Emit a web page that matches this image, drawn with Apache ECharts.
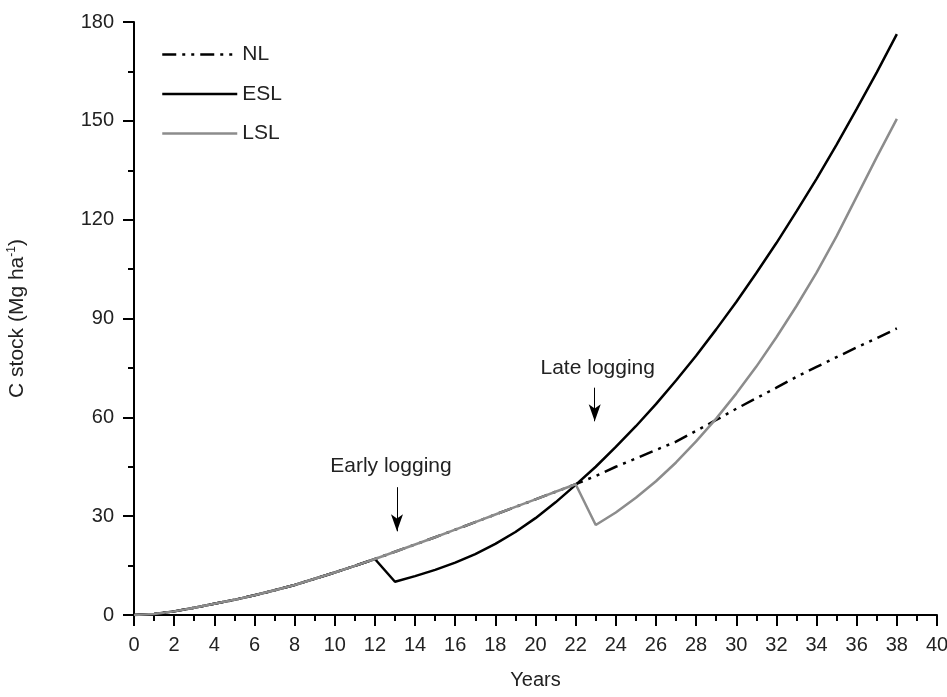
<!DOCTYPE html>
<html>
<head>
<meta charset="utf-8">
<script src="https://cdn.jsdelivr.net/npm/echarts@6/dist/echarts.min.js"></script>
<style>
  html, body { margin: 0; padding: 0; background: #fff; }
  #chart { width: 947px; height: 697px; }
</style>
</head>
<body>
<div id="chart"></div>
<script>
// years 0..38
const years = [0, 1, 2, 3, 4, 5, 6, 7, 8, 9, 10, 11, 12, 13, 14, 15, 16, 17, 18, 19,
  20, 21, 22, 23, 24, 25, 26, 27, 28, 29, 30, 31, 32, 33, 34, 35, 36, 37, 38]

// no logging
const nlValues = [0, 0.3, 1.1, 2.2, 3.4, 4.6, 6.0, 7.5, 9.1, 11.0, 12.9, 14.9, 17.0, 19.2, 21.4,
  23.6, 25.9, 28.2, 30.5, 32.8, 35.1, 37.4, 39.7, 42.2, 45.0, 47.5, 50.1, 52.6, 55.9,
  59.2, 62.6, 65.8, 69.0, 72.3, 75.3, 78.3, 81.2, 84.0, 87.0]

// early logging (year 12)
const eslValues = [0, 0.3, 1.1, 2.2, 3.4, 4.6, 6.0, 7.5, 9.1, 11.0, 12.9, 14.9, 17.0, 10.1, 11.8,
  13.7, 15.9, 18.5, 21.6, 25.2, 29.4, 34.2, 39.5, 45.0, 51.0, 57.3, 64.0, 71.2, 78.7,
  86.7, 95.0, 103.8, 112.9, 122.5, 132.4, 142.8, 153.6, 164.7, 176.3]

// late logging (year 22)
const lslValues = [0, 0.3, 1.1, 2.2, 3.4, 4.6, 6.0, 7.5, 9.1, 11.0, 12.9, 14.9, 17.0, 19.2, 21.4,
  23.6, 25.9, 28.2, 30.5, 32.8, 35.1, 37.4, 39.7, 27.3, 31.1, 35.6, 40.6, 46.3, 52.7,
  59.6, 67.2, 75.4, 84.3, 93.8, 103.9, 115.0, 127.0, 139.0, 150.6]

const legendList = ['NL', 'ESL', 'LSL']
const textColor = '#222'
const font = 'Arial, "Liberation Sans", sans-serif'

function pairs(vals) {
  return years.map((y, i) => [y, vals[i]])
}

let myChart = echarts.init(document.getElementById('chart'))

let options = {
  animation: false,
  grid: {
    left: 134,
    right: 10,
    top: 22,
    bottom: 82,
    outerBoundsMode: 'none'
  },
  legend: {
    orient: 'vertical',
    left: 161,
    top: 44,
    padding: 0,
    itemWidth: 75,
    itemHeight: 20,
    itemGap: 18.5,
    itemStyle: { opacity: 0 },
    lineStyle: { width: 2.5 },
    textStyle: {
      color: textColor,
      fontSize: 21,
      fontFamily: font
    },
    data: legendList
  },
  xAxis: {
    type: 'value',
    min: 0,
    max: 40,
    interval: 2,
    name: 'Years',
    nameLocation: 'middle',
    nameGap: 55,
    nameTextStyle: {
      color: textColor,
      fontSize: 20,
      fontFamily: font
    },
    axisLine: {
      show: true,
      onZero: false,
      lineStyle: { color: '#000', width: 2 }
    },
    axisTick: {
      show: true,
      inside: false,
      length: 11,
      lineStyle: { color: '#000', width: 2 }
    },
    minorTick: {
      show: true,
      splitNumber: 2,
      length: 6,
      lineStyle: { color: '#000', width: 2 }
    },
    axisLabel: {
      color: textColor,
      fontSize: 20,
      fontFamily: font,
      margin: 20
    },
    splitLine: { show: false }
  },
  yAxis: {
    type: 'value',
    min: 0,
    max: 180,
    interval: 30,
    name: 'C stock (Mg ha{sup|-1})',
    nameLocation: 'middle',
    nameGap: 106,
    nameRotate: 90,
    nameTextStyle: {
      color: textColor,
      fontSize: 21,
      fontFamily: font,
      rich: {
        sup: {
          fontSize: 12,
          fontFamily: font,
          color: textColor,
          verticalAlign: 'top',
          padding: [0, 0, 10, 0]
        }
      }
    },
    axisLine: {
      show: true,
      onZero: false,
      lineStyle: { color: '#000', width: 2 }
    },
    axisTick: {
      show: true,
      inside: false,
      length: 11,
      lineStyle: { color: '#000', width: 2 }
    },
    minorTick: {
      show: true,
      splitNumber: 2,
      length: 6,
      lineStyle: { color: '#000', width: 2 }
    },
    axisLabel: {
      color: textColor,
      fontSize: 20,
      fontFamily: font,
      margin: 20
    },
    splitLine: { show: false }
  },
  series: [
    {
      name: 'NL',
      type: 'line',
      showSymbol: false,
      symbol: 'none',
      z: 2,
      lineStyle: {
        color: '#000',
        width: 2.5,
        type: [14, 6, 3, 6, 3, 6]
      },
      itemStyle: { color: '#000' },
      data: pairs(nlValues),
      markLine: {
        silent: true,
        symbol: ['none', 'arrow'],
        symbolSize: [9, 17],
        lineStyle: { color: '#000', width: 1, type: 'solid' },
        label: { show: false },
        data: [
          [{ coord: [13.1, 38.8] }, { coord: [13.1, 25.4] }],
          [{ coord: [22.95, 69.0] }, { coord: [22.95, 58.8] }]
        ]
      },
      markPoint: {
        silent: true,
        symbol: 'circle',
        symbolSize: 0,
        label: {
          show: true,
          color: textColor,
          fontSize: 21,
          fontFamily: font,
          formatter: p => p.name
        },
        data: [
          { name: 'Early logging', coord: [12.8, 45.2] },
          { name: 'Late logging', coord: [23.1, 75.0] }
        ]
      }
    },
    {
      name: 'ESL',
      type: 'line',
      showSymbol: false,
      symbol: 'none',
      z: 3,
      lineStyle: { color: '#000', width: 2.5 },
      itemStyle: { color: '#000' },
      data: pairs(eslValues)
    },
    {
      name: 'LSL',
      type: 'line',
      showSymbol: false,
      symbol: 'none',
      z: 4,
      lineStyle: { color: '#8c8c8c', width: 2.5 },
      itemStyle: { color: '#8c8c8c' },
      data: pairs(lslValues)
    }
  ]
}

myChart.setOption(options)
</script>
</body>
</html>
